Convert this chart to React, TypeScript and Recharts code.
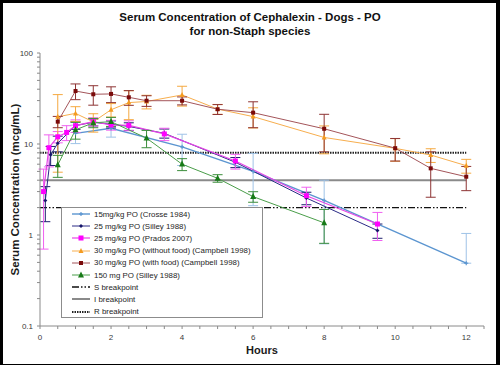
import React from 'react';
import { LineChart, Line, XAxis, YAxis, ErrorBar, Legend } from 'recharts';

// ---- data ----
const seriesNames = [
  '15mg/kg PO (Crosse 1984)',
  '25 mg/kg PO (Silley 1988)',
  '25 mg/kg PO (Prados 2007)',
  '30 mg/kg PO (without food) (Campbell 1998)',
  '30 mg/kg PO (with food) (Campbell 1998)',
  '150 mg PO (Silley 1988)',
];
const breakpointNames = ['S breakpoint', 'I breakpoint', 'R breakpoint'];

const crosseHours = [1, 2, 4, 6, 8, 12];
const crosseConc = [13.1, 14.9, 9.3, 5.0, 2.4, 0.49];
const crosseSD = [3, 3, 3.5, 2.9, 1.6, 0.55];

const silley25Hours = [0.15, 0.3, 0.5, 1, 1.5, 2, 2.5, 3.5, 5.5, 7.5, 9.5];
const silley25Conc = [2.4, 7.6, 10.2, 16.0, 17.3, 16.5, 15.6, 13.1, 6.3, 2.55, 1.12];
const silley25SD = [1.0, 1.8, 2.0, 1.5, 1.5, 1.5, 1.5, 1.5, 0.8, 0.4, 0.2];

const pradosHours = [0.1, 0.25, 0.5, 0.75, 1, 1.5, 2, 2.5, 3.5, 5.5, 7.5, 9.5];
const pradosConc = [3.0, 9.1, 12.0, 13.4, 15.9, 17.6, 16.2, 16.0, 12.9, 6.5, 2.7, 1.32];
const pradosSD = [2.3, 3.5, 1.7, 2.5, 2.5, 1.8, 2.0, 2.0, 2.0, 1.2, 0.65, 0.45];

const campNoFoodHours = [0.5, 1, 1.5, 2, 2.5, 3, 4, 5, 6, 8, 10, 11, 12];
const campNoFoodConc = [19.9, 21.7, 17.5, 23.8, 28.5, 29.3, 34.6, 24.2, 20.0, 11.8, 8.96, 7.57, 5.78];
const campNoFoodSD = [15, 4, 4, 4, 10, 5, 8.5, 3, 5, 4, 2.5, 1.3, 1.0];

const campFoodHours = [0.5, 1, 1.5, 2, 2.5, 3, 4, 5, 6, 8, 10, 11, 12];
const campFoodConc = [17.6, 38.2, 35.2, 35.5, 32.6, 29.9, 29.9, 24.1, 22.1, 14.7, 9.0, 5.4, 4.37];
const campFoodSD = [2.5, 7.5, 8.5, 7, 6, 4, 3, 3, 7, 6.5, 2.5, 2.8, 1.3];

const silley150Hours = [0.5, 1, 1.5, 2, 3, 4, 5, 6, 8];
const silley150Conc = [5.9, 14.3, 17.1, 17.6, 11.6, 6.0, 4.2, 2.64, 1.36];
const silley150SD = [1.6, 3, 2, 2, 2.5, 0.9, 0.4, 0.35, 0.55];

const breakpointHours = [0, 12];
const sBreakpoint = 2;
const iBreakpoint = 4;
const rBreakpoint = 8;

const xTicks = [0, 0.5, 1, 1.5, 2, 2.5, 3, 3.5, 4, 4.5, 5, 5.5, 6, 6.5, 7, 7.5, 8, 8.5, 9, 9.5, 10, 10.5, 11, 11.5, 12, 12.5];
const xLabelTicks = [0, 2, 4, 6, 8, 10, 12];
const yTicks = [0.1, 0.2, 0.3, 0.4, 0.5, 0.6, 0.7, 0.8, 0.9, 1, 2, 3, 4, 5, 6, 7, 8, 9, 10, 20, 30, 40, 50, 60, 70, 80, 90, 100];
const yLabelTicks = [0.1, 1, 10, 100];

// ---- helpers ----
function toPoints(hours: number[], conc: number[], sd: number[]) {
  return hours.map((h, i) => ({
    x: h,
    y: conc[i],
    e: sd[i] >= conc[i] ? [0, sd[i]] : [sd[i], sd[i]],
  }));
}
function toFlat(hours: number[], value: number) {
  return hours.map((h) => ({ x: h, y: value }));
}

const FONT = '"Liberation Sans", Arial, sans-serif';

type Shape = 'plus' | 'diamond' | 'square' | 'triangle' | 'circle';

function Marker({ shape, cx, cy, size, fill }: { shape: Shape; cx: number; cy: number; size: number; fill: string }) {
  if (cx == null || cy == null || isNaN(cx) || isNaN(cy)) return null;
  const s = size;
  switch (shape) {
    case 'square':
      return <rect x={cx - s / 2} y={cy - s / 2} width={s} height={s} fill={fill} />;
    case 'triangle':
      return (
        <polygon
          points={`${cx},${cy - s * 0.6} ${cx - s / 2},${cy + s * 0.4} ${cx + s / 2},${cy + s * 0.4}`}
          fill={fill}
        />
      );
    case 'diamond':
      return (
        <polygon points={`${cx},${cy - s / 2} ${cx + s / 2},${cy} ${cx},${cy + s / 2} ${cx - s / 2},${cy}`} fill={fill} />
      );
    case 'circle':
      return <circle cx={cx} cy={cy} r={s / 2} fill={fill} />;
    case 'plus':
    default:
      return (
        <g stroke={fill} strokeWidth={1.2}>
          <line x1={cx - s / 2} y1={cy} x2={cx + s / 2} y2={cy} />
          <line x1={cx} y1={cy - s / 2} x2={cx} y2={cy + s / 2} />
        </g>
      );
  }
}

const seriesStyles = [
  { stroke: '#5B95D0', width: 1.4, shape: 'plus' as Shape, mark: '#5B95D0', size: 4, bar: '#9FC3E7' },
  { stroke: '#2A2A86', width: 1, shape: 'diamond' as Shape, mark: '#16166A', size: 4, bar: '#1E1E6E' },
  { stroke: '#E645E6', width: 1.2, shape: 'square' as Shape, mark: '#FF00FF', size: 5, bar: '#F060F0' },
  { stroke: '#F7AE4E', width: 1, shape: 'triangle' as Shape, mark: '#F49B20', size: 5, bar: '#F5A940' },
  { stroke: '#A4555A', width: 1, shape: 'square' as Shape, mark: '#7A0A0A', size: 4, bar: '#8E3434' },
  { stroke: '#4A9E4A', width: 1, shape: 'triangle' as Shape, mark: '#177A17', size: 6, bar: '#3C8E3C' },
];
const breakpointStyles = [
  { stroke: '#111111', width: 1.4, dash: '7 2 1.5 2 1.5 2' },
  { stroke: '#8A8A8A', width: 2, dash: undefined as string | undefined },
  { stroke: '#222222', width: 2, dash: '1.5 1' },
];

const seriesData = [
  toPoints(crosseHours, crosseConc, crosseSD),
  toPoints(silley25Hours, silley25Conc, silley25SD),
  toPoints(pradosHours, pradosConc, pradosSD),
  toPoints(campNoFoodHours, campNoFoodConc, campNoFoodSD),
  toPoints(campFoodHours, campFoodConc, campFoodSD),
  toPoints(silley150Hours, silley150Conc, silley150SD),
];
const breakpointData = [
  toFlat(breakpointHours, sBreakpoint),
  toFlat(breakpointHours, iBreakpoint),
  toFlat(breakpointHours, rBreakpoint),
];

function LegendBox() {
  const rowH = 12.2;
  return (
    <div
      style={{
        width: 202,
        height: 111,
        boxSizing: 'border-box',
        border: '1px solid #8C8C8C',
        background: '#fff',
        fontFamily: FONT,
        fontSize: 7.9,
        color: '#1E1E1E',
        paddingTop: 0,
      }}
    >
      {seriesNames.map((n, i) => {
        const st = seriesStyles[i];
        return (
          <div key={n} style={{ height: rowH, display: 'flex', alignItems: 'center' }}>
            <svg width={31} height={10} style={{ flex: 'none' }}>
              <line x1={10} y1={5} x2={28} y2={5} stroke={st.stroke} strokeWidth={st.width} />
              <Marker shape={st.shape} cx={19} cy={5} size={st.size} fill={st.mark} />
            </svg>
            <span style={{ marginLeft: 1, whiteSpace: 'nowrap' }}>{n}</span>
          </div>
        );
      })}
      {breakpointNames.map((n, i) => {
        const st = breakpointStyles[i];
        return (
          <div key={n} style={{ height: rowH, display: 'flex', alignItems: 'center' }}>
            <svg width={31} height={10} style={{ flex: 'none' }}>
              <line x1={10} y1={5} x2={28} y2={5} stroke={st.stroke} strokeWidth={st.width} strokeDasharray={st.dash} />
            </svg>
            <span style={{ marginLeft: 1, whiteSpace: 'nowrap' }}>{n}</span>
          </div>
        );
      })}
    </div>
  );
}

const yLabel = (props: any) => {
  const vb = props.viewBox || { x: 0, y: 53, width: 40, height: 273 };
  const cx = 15;
  const cy = vb.y + vb.height / 2;
  return (
    <text
      x={cx}
      y={cy}
      transform={`rotate(-90 ${cx} ${cy})`}
      textAnchor="middle"
      dominantBaseline="central"
      fontFamily={FONT}
      fontSize={11.5}
      fontWeight="bold"
      fill="#1A1A1A"
    >
      Serum Concentration (mcg/mL)
    </text>
  );
};

const xLabel = (props: any) => {
  const vb = props.viewBox || { x: 40, y: 326, width: 444, height: 30 };
  return (
    <text
      x={vb.x + vb.width / 2}
      y={vb.y + 28}
      textAnchor="middle"
      fontFamily={FONT}
      fontSize={11}
      fontWeight="bold"
      fill="#1A1A1A"
    >
      Hours
    </text>
  );
};

export default function App() {
  return (
    <div style={{ position: 'relative', width: 500, height: 365, background: '#000', overflow: 'hidden' }}>
      <style>{'body{margin:0}'}</style>
      <div style={{ position: 'absolute', left: 3, top: 3, width: 493, height: 361, background: '#fff' }} />
      <div
        style={{
          position: 'absolute',
          left: 0,
          top: 10,
          width: 500,
          textAlign: 'center',
          fontFamily: FONT,
          fontWeight: 'bold',
          fontSize: 11.5,
          lineHeight: '14px',
          color: '#111',
        }}
      >
        <div>Serum Concentration of Cephalexin - Dogs - PO</div>
        <div>for non-Staph species</div>
      </div>
      <div style={{ position: 'absolute', left: 0, top: 0 }}>
        <LineChart width={500} height={365} margin={{ top: 53, right: 16, bottom: 9, left: 0 }}>
          <XAxis
            type="number"
            dataKey="x"
            domain={[0, 12.5]}
            ticks={xTicks}
            interval={0}
            allowDataOverflow
            height={30}
            stroke="#8A8A8A"
            tickSize={3}
            tickMargin={5}
            tick={{ fontSize: 8, fill: '#3A3A3A', fontFamily: FONT }}
            tickFormatter={(v: number) => (xLabelTicks.includes(v) ? String(v) : '')}
            label={xLabel}
          />
          <YAxis
            type="number"
            dataKey="y"
            scale="log"
            domain={[0.1, 100]}
            ticks={yTicks}
            interval={0}
            allowDataOverflow
            width={40}
            stroke="#8A8A8A"
            tickSize={3}
            tickMargin={4}
            tick={{ fontSize: 8, fill: '#3A3A3A', fontFamily: FONT }}
            tickFormatter={(v: number) => (yLabelTicks.includes(v) ? String(v) : '')}
            label={yLabel}
          />
          {breakpointData.map((d, i) => (
            <Line
              key={breakpointNames[i]}
              data={d}
              dataKey="y"
              name={breakpointNames[i]}
              stroke={breakpointStyles[i].stroke}
              strokeWidth={breakpointStyles[i].width}
              strokeDasharray={breakpointStyles[i].dash}
              dot={false}
              activeDot={false}
              isAnimationActive={false}
            />
          ))}
          {seriesData.map((d, i) => {
            const st = seriesStyles[i];
            return (
              <Line
                key={seriesNames[i]}
                data={d}
                dataKey="y"
                name={seriesNames[i]}
                stroke={st.stroke}
                strokeWidth={st.width}
                dot={(p: any) => <Marker key={p.index} shape={st.shape} cx={p.cx} cy={p.cy} size={st.size} fill={st.mark} />}
                activeDot={false}
                isAnimationActive={false}
              >
                <ErrorBar dataKey="e" direction="y" width={5} stroke={st.bar} strokeWidth={1} isAnimationActive={false} />
              </Line>
            );
          })}
          <Legend
            layout="vertical"
            align="center"
            verticalAlign="middle"
            content={() => <LegendBox />}
            wrapperStyle={{ position: 'absolute', left: 61, top: 207, width: 202, height: 111 }}
          />
        </LineChart>
      </div>
    </div>
  );
}
